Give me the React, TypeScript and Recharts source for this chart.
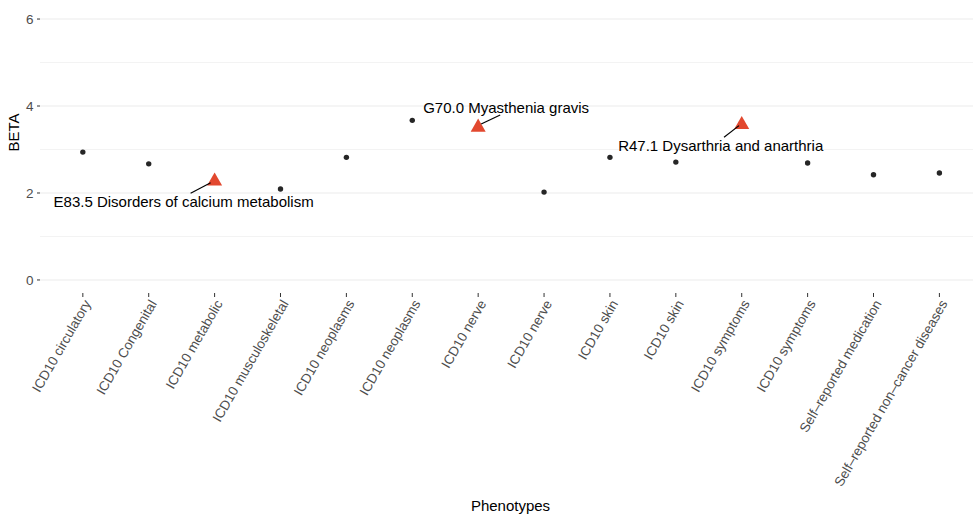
import React from 'react';
import { ScatterChart, Scatter, XAxis, YAxis, ReferenceLine } from 'recharts';

// Phenotype categories along the x axis (duplicates are separate associations)
const categories = [
  'ICD10 circulatory',
  'ICD10 Congenital',
  'ICD10 metabolic',
  'ICD10 musculoskeletal',
  'ICD10 neoplasms',
  'ICD10 neoplasms',
  'ICD10 nerve',
  'ICD10 nerve',
  'ICD10 skin',
  'ICD10 skin',
  'ICD10 symptoms',
  'ICD10 symptoms',
  'Self–reported medication',
  'Self–reported non–cancer diseases',
];

// Effect sizes for each phenotype
const betaValues = [2.94, 2.67, 2.27, 2.09, 2.82, 3.67, 3.51, 2.02, 2.82, 2.71, 3.57, 2.69, 2.42, 2.46];

// Highlighted phenotypes get a named annotation
const annotations: (string | null)[] = [
  null,
  null,
  'E83.5 Disorders of calcium metabolism',
  null,
  null,
  null,
  'G70.0 Myasthenia gravis',
  null,
  null,
  null,
  'R47.1 Dysarthria and anarthria',
  null,
  null,
  null,
];

const yTicks = [0, 2, 4, 6];
const majorGrid = [0, 2, 4, 6];
const minorGrid = [1, 3, 5];

// Placement of each annotation relative to its point (text centre/baseline, leader line ends)
const labelNudges: Record<number, { tx: number; ty: number; x1: number; y1: number; x2: number; y2: number }> = {
  2: { tx: -31, ty: 26, x1: -4, y1: 1.5, x2: -24, y2: 12 },
  6: { tx: 28, ty: -14, x1: 3, y1: -3.3, x2: 22, y2: -12.3 },
  10: { tx: -21, ty: 26, x1: -2.7, y1: 0.9, x2: -17.7, y2: 12.5 },
};

const FONT = '"Liberation Sans", Arial, Helvetica, sans-serif';
const HIGHLIGHT = '#E2482F';

const points = categories.map((name, i) => ({
  x: i,
  beta: betaValues[i],
  name,
  label: annotations[i],
}));
const plainPoints = points.filter((p) => !p.label);
const highlightPoints = points.filter((p) => p.label);

const Dot = (props: any) => {
  const { cx, cy } = props;
  if (cx == null || cy == null) return null;
  return <circle cx={cx} cy={cy} r={2.7} fill="#262626" />;
};

const Triangle = (props: any) => {
  const { cx, cy, payload } = props;
  if (cx == null || cy == null) return null;
  const n = labelNudges[payload.x];
  const r = 8.7;
  const half = 7.5;
  const pts = `${cx},${cy - r} ${cx + half},${cy + r / 2} ${cx - half},${cy + r / 2}`;
  return (
    <g>
      <polygon points={pts} fill={HIGHLIGHT} />
      {n && (
        <>
          <line x1={cx + n.x1} y1={cy + n.y1} x2={cx + n.x2} y2={cy + n.y2} stroke="#000" strokeWidth={1.2} />
          <text x={cx + n.tx} y={cy + n.ty} textAnchor="middle" fontFamily={FONT} fontSize={15} fill="#000">
            {payload.label}
          </text>
        </>
      )}
    </g>
  );
};

const XTick = (props: any) => {
  const { x, y, payload } = props;
  const bx = x + 8.5;
  const by = y + 4.5;
  return (
    <text
      x={bx}
      y={by}
      transform={`rotate(-60 ${bx} ${by})`}
      textAnchor="end"
      fontFamily={FONT}
      fontSize={13.5}
      fill="#4D4D4D"
    >
      {categories[payload.value]}
    </text>
  );
};

const XTitle = (props: any) => {
  const vb = props.viewBox || { x: 40, width: 933 };
  return (
    <text x={vb.x + vb.width / 2 + 4} y={511} textAnchor="middle" fontFamily={FONT} fontSize={15} fill="#000">
      Phenotypes
    </text>
  );
};

const YTitle = () => (
  <text
    x={18.5}
    y={132.5}
    transform="rotate(-90 18.5 132.5)"
    textAnchor="middle"
    fontFamily={FONT}
    fontSize={15}
    fill="#000"
  >
    BETA
  </text>
);

export default function App() {
  return (
    <div style={{ position: 'absolute', left: 0, top: 0, width: 973, height: 517, background: '#fff' }}>
      <ScatterChart width={973} height={517} margin={{ top: 6, right: 0, bottom: 0, left: 0 }}>
        {minorGrid.map((v) => (
          <ReferenceLine key={`mi${v}`} y={v} stroke="#F3F3F3" strokeWidth={1} ifOverflow="visible" />
        ))}
        {majorGrid.map((v) => (
          <ReferenceLine key={`ma${v}`} y={v} stroke="#EBEBEB" strokeWidth={1.1} ifOverflow="visible" />
        ))}
        <XAxis
          type="number"
          dataKey="x"
          domain={[-0.65, 13.51]}
          ticks={categories.map((_, i) => i)}
          interval={0}
          allowDataOverflow
          axisLine={false}
          tickLine={{ stroke: '#333', strokeWidth: 1 }}
          tickSize={4}
          tickMargin={2}
          height={224}
          tick={<XTick />}
          label={<XTitle />}
        />
        <YAxis
          type="number"
          dataKey="beta"
          domain={[-0.3, 6.3]}
          ticks={yTicks}
          interval={0}
          allowDataOverflow
          axisLine={false}
          tickLine={{ stroke: '#333', strokeWidth: 1 }}
          tickSize={3}
          tickMargin={3.5}
          width={40}
          tick={{ fill: '#4D4D4D', fontSize: 13.5, fontFamily: FONT }}
          label={<YTitle />}
        />
        <Scatter data={plainPoints} shape={<Dot />} isAnimationActive={false} />
        <Scatter data={highlightPoints} shape={<Triangle />} isAnimationActive={false} />
      </ScatterChart>
    </div>
  );
}
